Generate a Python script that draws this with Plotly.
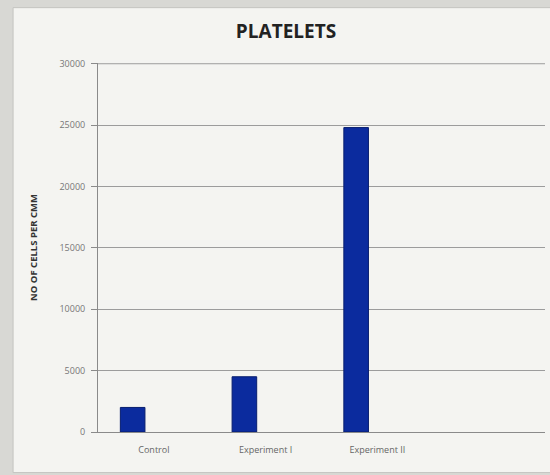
import plotly.graph_objects as go

# Platelet counts per group
categories = ["Control", "Experiment I", "Experiment II"]
platelets = [2000, 4500, 24800]
y_ticks = [0, 5000, 10000, 15000, 20000, 25000, 30000]

x_pos = list(range(len(categories)))

fig = go.Figure()
fig.add_trace(go.Bar(
    x=x_pos,
    y=platelets,
    width=0.22,
    offset=-0.30,
    marker=dict(color="#0b2b9e", line=dict(color="#071d6e", width=1)),
    hoverinfo="y",
))

fig.update_layout(
    width=550,
    height=475,
    margin=dict(l=98, r=5, t=63, b=43),
    paper_bgcolor="#d8d8d4",
    plot_bgcolor="#f4f4f1",
    showlegend=False,
    title=dict(
        text="<b>PLATELETS</b>",
        x=0.52, xanchor="center", y=0.935, yanchor="middle",
        font=dict(family="Open Sans, Arial, sans-serif", size=19, color="#222222"),
    ),
    shapes=[
        # chart frame
        dict(type="rect", xref="paper", yref="paper",
             x0=-0.19, x1=1.02, y0=-0.11, y1=1.15,
             fillcolor="#f4f4f1", line=dict(color="#c4c4c0", width=1),
             layer="below"),
        # top gridline at the axis maximum
        dict(type="line", xref="paper", yref="y",
             x0=0, x1=1, y0=y_ticks[-1], y1=y_ticks[-1],
             line=dict(color="#9c9c9c", width=1), layer="below"),
    ],
    xaxis=dict(
        range=[-0.5, 3.5],
        tickvals=x_pos,
        ticktext=categories,
        tickfont=dict(family="Open Sans, Arial, sans-serif", size=9, color="#666666"),
        ticklabelstandoff=9,
        showgrid=False,
        showline=True, linecolor="#8a8a8a", linewidth=1,
        ticks="", zeroline=False,
    ),
    yaxis=dict(
        range=[0, 30060],
        tickvals=y_ticks,
        ticktext=[str(v) for v in y_ticks],
        tickfont=dict(family="Open Sans, Arial, sans-serif", size=9, color="#777777"),
        ticklabelstandoff=4,
        showgrid=True, gridcolor="#9c9c9c", gridwidth=1,
        showline=True, linecolor="#8a8a8a", linewidth=1,
        ticks="outside", ticklen=6, tickcolor="#8a8a8a",
        zeroline=False,
        title=dict(
            text="<b>NO OF CELLS PER CMM</b>",
            font=dict(family="Open Sans, Arial, sans-serif", size=9.5, color="#333333"),
            standoff=20,
        ),
    ),
)

fig.write_html("out.html")
